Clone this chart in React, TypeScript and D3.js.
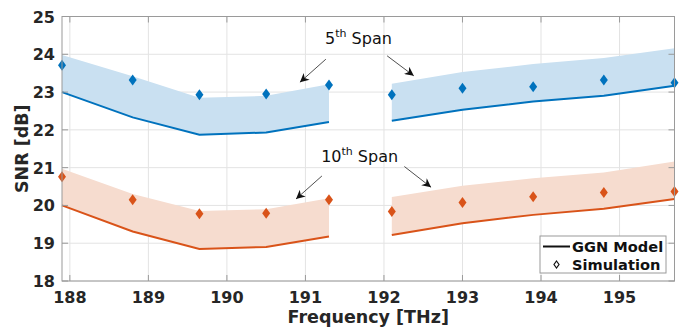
import { useEffect, useRef } from 'react';
import * as d3 from 'd3';

// carrier frequencies [THz]; the two bands are drawn as separate segments
const freqs = [187.9, 188.8, 189.65, 190.5, 191.3, 192.1, 193.0, 193.9, 194.8, 195.7];
const segment = [0, 0, 0, 0, 0, 1, 1, 1, 1, 1];

// 5th span
const sim5 = [23.71, 23.32, 22.93, 22.95, 23.19, 22.93, 23.1, 23.14, 23.32, 23.25];
const ggn5 = [23.0, 22.33, 21.87, 21.93, 22.21, 22.24, 22.53, 22.75, 22.9, 23.17];
const upper5 = [23.98, 23.42, 22.85, 22.9, 23.21, 23.22, 23.53, 23.74, 23.9, 24.16];

// 10th span
const sim10 = [20.76, 20.15, 19.78, 19.79, 20.15, 19.84, 20.08, 20.23, 20.34, 20.37];
const ggn10 = [20.0, 19.31, 18.85, 18.9, 19.18, 19.22, 19.53, 19.75, 19.91, 20.17];
const upper10 = [20.97, 20.3, 19.85, 19.9, 20.19, 20.22, 20.52, 20.72, 20.87, 21.16];

const xTicks = [188, 189, 190, 191, 192, 193, 194, 195];
const yTicks = [18, 19, 20, 21, 22, 23, 24, 25];

// annotations in data units
const labels = [
  { num: '5', x: 191.25, y: 24.27 },
  { num: '10', x: 191.2, y: 21.16 }
];
const arrows = [
  [191.26, 23.87, 190.93, 23.26],
  [192.04, 23.96, 192.38, 23.43],
  [191.21, 20.78, 190.88, 20.17],
  [192.26, 21.03, 192.6, 20.48]
];

const App = () => {
  const svgRef = useRef(null);

  useEffect(() => {
    const svg = d3.select(svgRef.current);
    svg.selectAll('*').remove();

    const font = 'DejaVu Sans, sans-serif';
    const axisColor = '#9a9a9a';
    const textColor = '#262626';

    const x = d3.scaleLinear().domain([187.9, 195.7]).range([62, 674.5]);
    const y = d3.scaleLinear().domain([18, 25]).range([281, 16.5]);
    const [x0, x1] = x.range();
    const [y0, y1] = y.range();

    svg
      .append('defs')
      .append('marker')
      .attr('id', 'arrowhead')
      .attr('viewBox', '0 0 10 10')
      .attr('refX', 10)
      .attr('refY', 5)
      .attr('markerWidth', 11)
      .attr('markerHeight', 9)
      .attr('markerUnits', 'userSpaceOnUse')
      .attr('orient', 'auto')
      .append('path')
      .attr('d', 'M0,0 L10,5 L0,10 L3,5 Z')
      .attr('fill', '#111');

    // grid
    const grid = svg.append('g').attr('stroke', '#e3e3e3').attr('stroke-width', 1);
    xTicks.forEach(t => {
      grid.append('line').attr('x1', x(t)).attr('x2', x(t)).attr('y1', y0).attr('y2', y1);
    });
    yTicks.forEach(t => {
      grid.append('line').attr('x1', x0).attr('x2', x1).attr('y1', y(t)).attr('y2', y(t));
    });

    const idx = d3.range(freqs.length);
    const groups = [0, 1].map(s => idx.filter(i => segment[i] === s));

    const series = [
      { sim: sim5, ggn: ggn5, upper: upper5, color: '#0072BD', fill: '#c9e0f1' },
      { sim: sim10, ggn: ggn10, upper: upper10, color: '#D95319', fill: '#f6dccf' }
    ];

    series.forEach(s => {
      const area = d3
        .area<number>()
        .x(i => x(freqs[i]))
        .y0(i => y(s.ggn[i]))
        .y1(i => y(s.upper[i]));
      const line = d3
        .line<number>()
        .x(i => x(freqs[i]))
        .y(i => y(s.ggn[i]));

      groups.forEach(g => {
        svg.append('path').datum(g).attr('d', area).attr('fill', s.fill);
      });
      groups.forEach(g => {
        svg
          .append('path')
          .datum(g)
          .attr('d', line)
          .attr('fill', 'none')
          .attr('stroke', s.color)
          .attr('stroke-width', 2);
      });

      svg
        .append('g')
        .selectAll('path')
        .data(idx)
        .join('path')
        .attr('transform', i => `translate(${x(freqs[i])},${y(s.sim[i])})`)
        .attr('d', 'M0,-5.5 L4,0 L0,5.5 L-4,0 Z')
        .attr('fill', s.color);
    });

    // axes box and ticks
    svg
      .append('rect')
      .attr('x', x0)
      .attr('y', y1)
      .attr('width', x1 - x0)
      .attr('height', y0 - y1)
      .attr('fill', 'none')
      .attr('stroke', axisColor)
      .attr('stroke-width', 1);

    const ticks = svg.append('g').attr('stroke', axisColor).attr('stroke-width', 1);
    xTicks.forEach(t => {
      ticks.append('line').attr('x1', x(t)).attr('x2', x(t)).attr('y1', y0).attr('y2', y0 - 6);
      ticks.append('line').attr('x1', x(t)).attr('x2', x(t)).attr('y1', y1).attr('y2', y1 + 6);
    });
    yTicks.forEach(t => {
      ticks.append('line').attr('x1', x0).attr('x2', x0 + 6).attr('y1', y(t)).attr('y2', y(t));
      ticks.append('line').attr('x1', x1).attr('x2', x1 - 6).attr('y1', y(t)).attr('y2', y(t));
    });

    svg
      .append('g')
      .selectAll('text')
      .data(xTicks)
      .join('text')
      .attr('x', d => x(d))
      .attr('y', 303)
      .attr('text-anchor', 'middle')
      .style('font-family', font)
      .style('font-size', '16px')
      .style('font-weight', 'bold')
      .attr('fill', textColor)
      .text(d => d);

    svg
      .append('g')
      .selectAll('text')
      .data(yTicks)
      .join('text')
      .attr('x', 55)
      .attr('y', d => y(d) + 6)
      .attr('text-anchor', 'end')
      .style('font-family', font)
      .style('font-size', '16px')
      .style('font-weight', 'bold')
      .attr('fill', textColor)
      .text(d => d);

    svg
      .append('text')
      .attr('x', (x0 + x1) / 2)
      .attr('y', 323)
      .attr('text-anchor', 'middle')
      .style('font-family', font)
      .style('font-size', '17.5px')
      .style('font-weight', 'bold')
      .attr('fill', textColor)
      .text('Frequency [THz]');

    svg
      .append('text')
      .attr('transform', `translate(28,${(y0 + y1) / 2}) rotate(-90)`)
      .attr('text-anchor', 'middle')
      .style('font-family', font)
      .style('font-size', '17.5px')
      .style('font-weight', 'bold')
      .attr('fill', textColor)
      .text('SNR [dB]');

    // annotations
    labels.forEach(l => {
      const t = svg
        .append('text')
        .attr('x', x(l.x))
        .attr('y', y(l.y))
        .style('font-family', font)
        .style('font-size', '16px')
        .attr('fill', '#111');
      t.append('tspan').text(l.num);
      t.append('tspan').attr('dy', -7).style('font-size', '11px').text('th');
      t.append('tspan').attr('dy', 7).text(' Span');
    });

    arrows.forEach(a => {
      svg
        .append('line')
        .attr('x1', x(a[0]))
        .attr('y1', y(a[1]))
        .attr('x2', x(a[2]))
        .attr('y2', y(a[3]))
        .attr('stroke', '#222')
        .attr('stroke-width', 0.8)
        .attr('marker-end', 'url(#arrowhead)');
    });

    // legend
    const legend = svg.append('g').attr('transform', 'translate(540,236)');
    legend
      .append('rect')
      .attr('width', 126)
      .attr('height', 37)
      .attr('fill', '#fff')
      .attr('stroke', axisColor)
      .attr('stroke-width', 1);
    legend
      .append('line')
      .attr('x1', 3)
      .attr('x2', 30)
      .attr('y1', 10.5)
      .attr('y2', 10.5)
      .attr('stroke', '#111')
      .attr('stroke-width', 2);
    legend
      .append('path')
      .attr('transform', 'translate(16.5,28.5)')
      .attr('d', 'M0,-3.5 L2.5,0 L0,3.5 L-2.5,0 Z')
      .attr('fill', 'none')
      .attr('stroke', '#111')
      .attr('stroke-width', 1.2);
    [
      { label: 'GGN Model', dy: 15.5 },
      { label: 'Simulation', dy: 33.5 }
    ].forEach(item => {
      legend
        .append('text')
        .attr('x', 32)
        .attr('y', item.dy)
        .style('font-family', font)
        .style('font-size', '14.6px')
        .style('font-weight', 'bold')
        .attr('fill', '#111')
        .text(item.label);
    });
  }, []);

  return (
    <svg
      ref={svgRef}
      width={686}
      height={329}
      style={{ position: 'absolute', left: 0, top: 0, background: '#fff' }}
    />
  );
};

export default App;
